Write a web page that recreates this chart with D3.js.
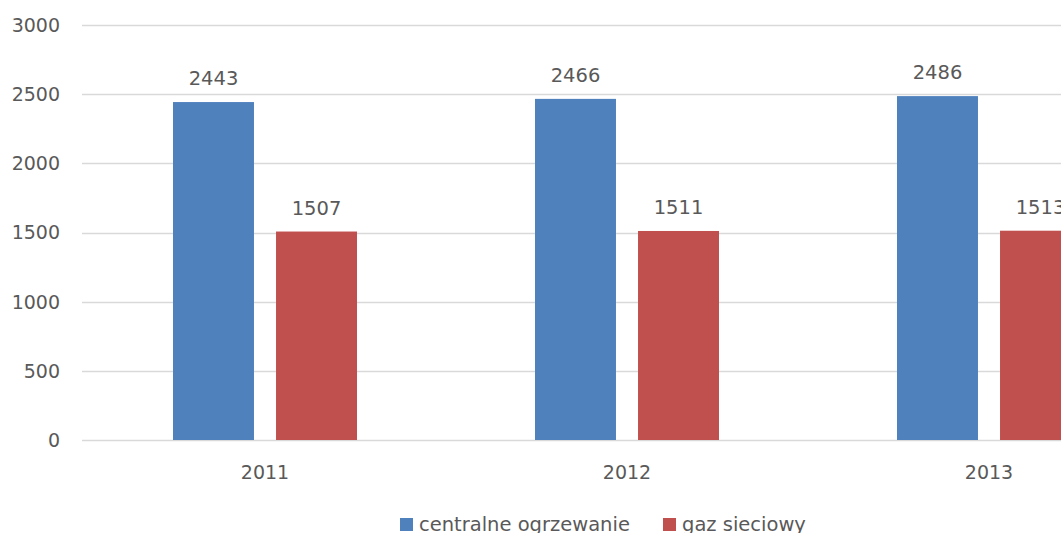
<!DOCTYPE html>
<meta charset="utf-8">
<style>
body { margin: 0; background: #fff; }
text { font-family: "DejaVu Sans", sans-serif; fill: #595959; }
.grid line { stroke: #d9d9d9; stroke-width: 1.3; }
</style>
<svg width="1061" height="533"></svg>
<script src="https://cdn.jsdelivr.net/npm/d3@7"></script>
<script>

var years = ["2011", "2012", "2013"];
var series = ["centralne ogrzewanie", "gaz sieciowy"];
var centralne = [2443, 2466, 2486];
var gaz = [1507, 1511, 1513];
var yTicks = [0, 500, 1000, 1500, 2000, 2500, 3000];
var colors = ["#4f81bd", "#c0504d"];

var svg = d3.select("svg"),
    width = +svg.attr("width"),
    height = +svg.attr("height");

var x0 = d3.scaleBand()
    .domain(years)
    .range([84, 84 + 3 * 362]);

var x1 = d3.scaleBand()
    .domain(series)
    .range([0, x0.bandwidth()])
    .paddingInner(0.214)
    .paddingOuter(0.864);

var y = d3.scaleLinear()
    .domain([0, 3000])
    .range([440, 25]);

var color = d3.scaleOrdinal().domain(series).range(colors);

// gridlines
svg.append("g")
    .attr("class", "grid")
  .selectAll("line")
    .data(yTicks)
  .enter().append("line")
    .attr("x1", 82)
    .attr("x2", width)
    .attr("y1", function(d) { return Math.round(y(d)) + 0.5; })
    .attr("y2", function(d) { return Math.round(y(d)) + 0.5; });

// y labels
svg.append("g")
  .selectAll("text")
    .data(yTicks)
  .enter().append("text")
    .attr("x", 60)
    .attr("y", function(d) { return y(d); })
    .attr("dy", "0.36em")
    .attr("text-anchor", "end")
    .style("font-size", "19px")
    .text(function(d) { return d; });

// x labels
svg.append("g")
  .selectAll("text")
    .data(years)
  .enter().append("text")
    .attr("x", function(d) { return x0(d) + x0.bandwidth() / 2; })
    .attr("y", 479)
    .attr("text-anchor", "middle")
    .style("font-size", "19px")
    .text(function(d) { return d; });

var rows = years.map(function(yr, i) {
  return { year: yr, values: [
    { key: series[0], value: centralne[i] },
    { key: series[1], value: gaz[i] }
  ]};
});

var groups = svg.append("g")
  .selectAll("g")
    .data(rows)
  .enter().append("g")
    .attr("transform", function(d) { return "translate(" + x0(d.year) + ",0)"; });

groups.selectAll("rect")
    .data(function(d) { return d.values; })
  .enter().append("rect")
    .attr("x", function(d) { return x1(d.key); })
    .attr("width", x1.bandwidth())
    .attr("y", function(d) { return y(d.value); })
    .attr("height", function(d) { return y(0) - y(d.value); })
    .attr("fill", function(d) { return color(d.key); });

groups.selectAll("text")
    .data(function(d) { return d.values; })
  .enter().append("text")
    .attr("x", function(d) { return x1(d.key) + x1.bandwidth() / 2; })
    .attr("y", function(d) { return y(d.value) - 17; })
    .attr("text-anchor", "middle")
    .style("font-size", "19.5px")
    .text(function(d) { return d.value; });

// legend
var legendX = [400, 663];
var legend = svg.append("g")
  .selectAll("g")
    .data(series)
  .enter().append("g")
    .attr("transform", function(d, i) { return "translate(" + legendX[i] + ",518)"; });

legend.append("rect")
    .attr("width", 13)
    .attr("height", 13)
    .attr("fill", function(d) { return color(d); });

legend.append("text")
    .attr("x", 19)
    .attr("y", 13)
    .style("font-size", "19.5px")
    .text(function(d) { return d; });

</script>
